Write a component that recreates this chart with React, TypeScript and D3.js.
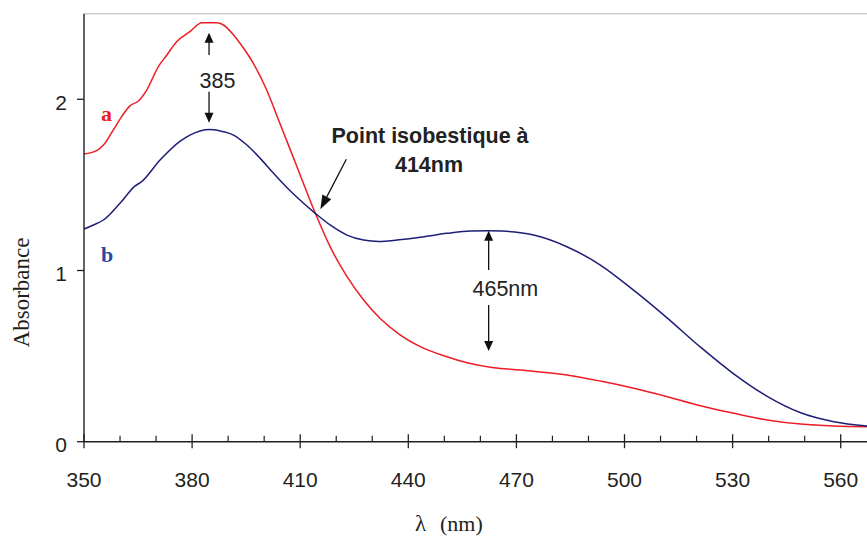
import React from "react";
import * as d3 from "d3";

// Curve a (red)
const wavelengthA = [350, 353.5, 355.4, 358.1, 360.5, 362.8, 365.1, 367.4, 370.6, 373, 375.7, 379.4, 382.7, 386.9, 388.7, 391.5, 394.3, 397, 400.7, 404, 409.1, 414.2, 418.3, 423, 427.6, 432.2, 437.8, 443.3, 450.7, 456.3, 463.7, 471.1, 484, 493.3, 502.6, 511.9, 521.1, 530.4, 539.6, 548.9, 558.1, 567.4];
const absorbanceA = [1.68, 1.7, 1.733, 1.82, 1.9, 1.963, 1.99, 2.054, 2.19, 2.259, 2.336, 2.395, 2.447, 2.447, 2.434, 2.376, 2.298, 2.21, 2.054, 1.879, 1.606, 1.334, 1.139, 0.964, 0.828, 0.72, 0.623, 0.555, 0.496, 0.461, 0.432, 0.419, 0.39, 0.354, 0.312, 0.263, 0.21, 0.166, 0.127, 0.103, 0.092, 0.088];

// Curve b (blue)
const wavelengthB = [350, 352.6, 355.4, 360, 364.2, 366, 371.1, 376.7, 379.4, 382.2, 385, 388.7, 391.5, 395.2, 398.9, 402.6, 406.3, 409.1, 414.2, 418.3, 423, 427.6, 431.8, 436.9, 443.3, 450.7, 457.2, 462.3, 466, 471.1, 474.8, 484, 493.3, 502.6, 511.9, 521.1, 530.4, 539.6, 548.9, 558.1, 567.4];
const absorbanceB = [1.242, 1.266, 1.295, 1.393, 1.494, 1.519, 1.645, 1.756, 1.791, 1.815, 1.823, 1.811, 1.791, 1.733, 1.655, 1.568, 1.485, 1.428, 1.334, 1.266, 1.207, 1.178, 1.17, 1.178, 1.194, 1.217, 1.231, 1.232, 1.23, 1.221, 1.207, 1.139, 1.032, 0.884, 0.722, 0.552, 0.395, 0.265, 0.169, 0.117, 0.092];

const xMajorTicks = [350, 380, 410, 440, 470, 500, 530, 560];
const xMinorTicks = [360, 370, 390, 400, 420, 430, 450, 460, 480, 490, 510, 520, 540, 550];
const yTicks = [0, 1, 2];

const W = 867;
const H = 538;
const AXIS = "#231f20";
const RED = "#ee1c25";
const BLUE = "#1e1e78";
const SANS = "'Liberation Sans', Arial, sans-serif";
const SERIF = "'Liberation Serif', 'Times New Roman', serif";

export default function App() {
  const x = d3.scaleLinear().domain([350, 560]).range([84, 840.7]);
  const y = d3.scaleLinear().domain([0, 2.5]).range([441.7, 13.7]);

  const line = d3
    .line<[number, number]>()
    .x((d) => x(d[0]))
    .y((d) => y(d[1]))
    .curve(d3.curveMonotoneX);

  const dataA = wavelengthA.map((w, i) => [w, absorbanceA[i]] as [number, number]);
  const dataB = wavelengthB.map((w, i) => [w, absorbanceB[i]] as [number, number]);

  const y0 = y(0);

  const arrowHead = (tx: number, ty: number, dir: "up" | "down") => {
    const s = dir === "up" ? 1 : -1;
    return `M${tx},${ty} L${tx - 4.5},${ty + s * 10} L${tx + 4.5},${ty + s * 10} Z`;
  };

  // annotation positions derived from scales
  const x385 = x(384.7);
  const x465 = x(462.3);
  const isoX = x(414.2);
  const isoY = y(1.334);

  // diagonal arrow from label to isosbestic point
  const ax0 = isoX + 31, ay0 = isoY - 54;
  const tipX = isoX + 5, tipY = isoY - 4;
  const ang = Math.atan2(tipY - ay0, tipX - ax0);
  const hl = 14, hw = 5;
  const bx = tipX - hl * Math.cos(ang), by = tipY - hl * Math.sin(ang);
  const px = -Math.sin(ang) * hw, py = Math.cos(ang) * hw;

  return (
    <div style={{ position: "absolute", left: 0, top: 0 }}>
      <svg width={W} height={H} style={{ display: "block", background: "#fff" }}>
        {/* top border line */}
        <line x1={x(350)} x2={W} y1={y(2.5)} y2={y(2.5)} stroke="#cfcfcf" strokeWidth={1.6} />

        {/* curves */}
        <path d={line(dataA) || ""} fill="none" stroke={RED} strokeWidth={1.5} />
        <path d={line(dataB) || ""} fill="none" stroke={BLUE} strokeWidth={1.5} />

        {/* axes */}
        <line x1={x(350)} x2={W} y1={y0} y2={y0} stroke={AXIS} strokeWidth={1.4} />
        <line x1={x(350)} x2={x(350)} y1={y(2.5)} y2={y0} stroke={AXIS} strokeWidth={1.4} />

        {xMajorTicks.map((t) => (
          <g key={"M" + t}>
            <line x1={x(t)} x2={x(t)} y1={y0 - 7.5} y2={y0 + 6.5} stroke={AXIS} strokeWidth={1.3} />
            <text x={x(t)} y={487} textAnchor="middle" fontFamily={SANS} fontSize={21} fill={AXIS}>
              {t}
            </text>
          </g>
        ))}
        {xMinorTicks.map((t) => (
          <line key={"m" + t} x1={x(t)} x2={x(t)} y1={y0 - 6} y2={y0} stroke={AXIS} strokeWidth={1.2} />
        ))}
        {yTicks.map((t) => (
          <g key={"y" + t}>
            <line x1={x(350) - 7} x2={x(350)} y1={y(t)} y2={y(t)} stroke={AXIS} strokeWidth={1.3} />
            <text x={67} y={y(t) + 10.5} textAnchor="end" fontFamily={SANS} fontSize={21} fill={AXIS}>
              {t}
            </text>
          </g>
        ))}

        {/* axis titles */}
        <text
          transform={`translate(28.5,292.5) rotate(-90)`}
          textAnchor="middle"
          fontFamily={SERIF}
          fontSize={23}
          fill={AXIS}
        >
          Absorbance
        </text>
        <text x={415} y={531} fontFamily={SERIF} fontSize={23} fill={AXIS}>
          λ
        </text>
        <text x={440} y={531} fontFamily={SERIF} fontSize={22} fill={AXIS}>
          (nm)
        </text>

        {/* series labels */}
        <text x={101} y={120.5} fontFamily={SERIF} fontWeight="bold" fontSize={22} fill={RED}>
          a
        </text>
        <text x={101} y={262} fontFamily={SERIF} fontWeight="bold" fontSize={22} fill="#2b4a9f">
          b
        </text>

        {/* 385 annotation */}
        <line x1={x385} x2={x385} y1={42} y2={55} stroke="#111" strokeWidth={1.3} />
        <path d={arrowHead(x385, 32.7, "up")} fill="#111" />
        <line x1={x385} x2={x385} y1={91.7} y2={113} stroke="#111" strokeWidth={1.3} />
        <path d={arrowHead(x385, 122.7, "down")} fill="#111" />
        <text x={217.5} y={88} textAnchor="middle" fontFamily={SANS} fontSize={21.5} fill="#222">
          385
        </text>

        {/* 465 annotation */}
        <line x1={x465} x2={x465} y1={240} y2={270} stroke="#111" strokeWidth={1.3} />
        <path d={arrowHead(x465, 230.7, "up")} fill="#111" />
        <line x1={x465} x2={x465} y1={305} y2={342} stroke="#111" strokeWidth={1.3} />
        <path d={arrowHead(x465, 351, "down")} fill="#111" />
        <text x={472.5} y={296} fontFamily={SANS} fontSize={21.5} fill="#222">
          465nm
        </text>

        {/* isosbestic annotation */}
        <text x={430} y={143.3} textAnchor="middle" fontFamily={SANS} fontWeight="bold" fontSize={21.5} fill="#222">
          Point isobestique à
        </text>
        <text x={429} y={172} textAnchor="middle" fontFamily={SANS} fontWeight="bold" fontSize={21.5} fill="#222">
          414nm
        </text>
        <line x1={ax0} y1={ay0} x2={bx} y2={by} stroke="#111" strokeWidth={1.3} />
        <path d={`M${tipX},${tipY} L${bx + px},${by + py} L${bx - px},${by - py} Z`} fill="#111" />
      </svg>
    </div>
  );
}
